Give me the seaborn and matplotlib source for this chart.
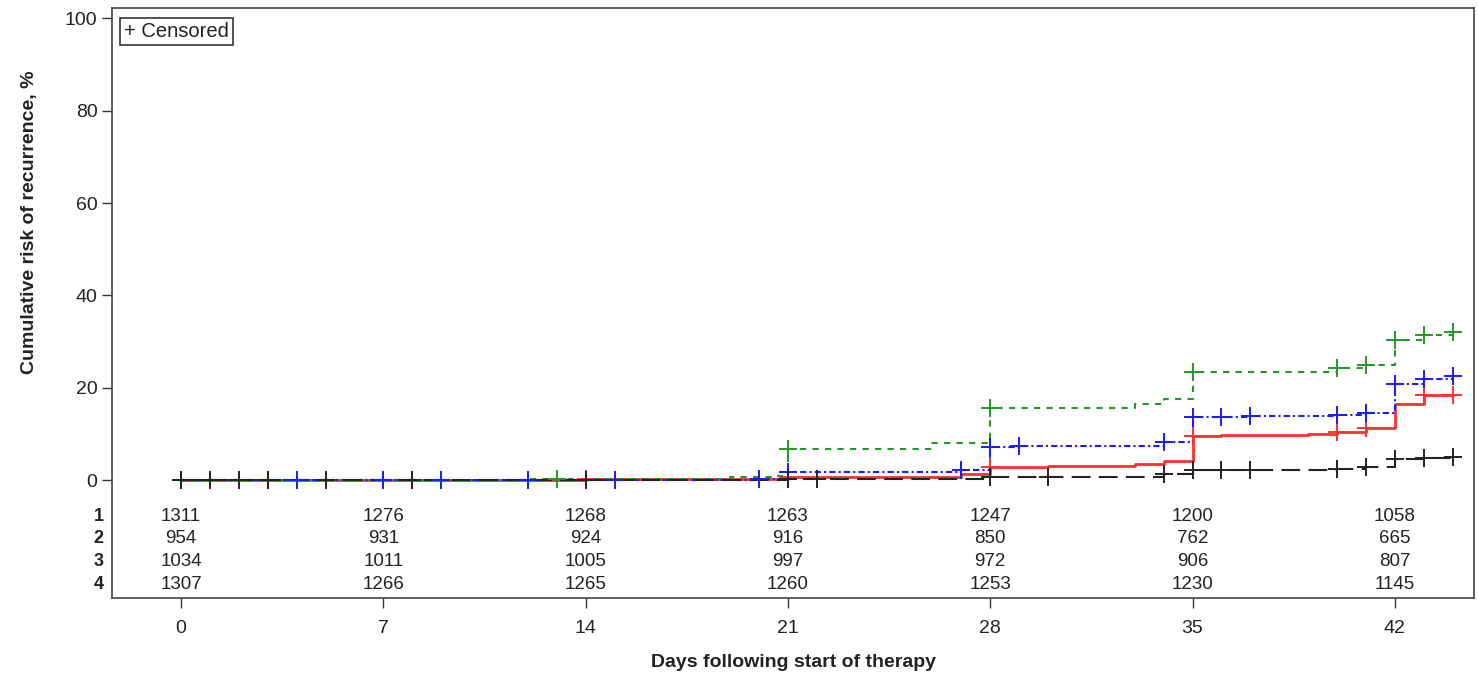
import numpy as np
import pandas as pd
import matplotlib
matplotlib.use("Agg")
import matplotlib.pyplot as plt
import seaborn as sns

# step curves (day of event, cumulative risk % after that day)
g1_days = [0, 14, 21, 27, 28, 30, 33, 34, 35, 36, 39, 40, 41, 42, 43, 44]
g1_risk = [0, 0.2, 0.6, 1.3, 2.9, 3.0, 3.5, 4.2, 9.5, 9.7, 9.9, 10.4, 11.2, 16.6, 18.4, 18.4]
g1_cens = [0, 3, 7, 14, 21, 28, 35, 40, 41, 43, 44]

g2_days = [0, 12, 19, 20.5, 21, 26, 28, 33, 34, 35, 40, 41, 42, 43, 44]
g2_risk = [0, 0.3, 0.7, 1.0, 6.7, 8.0, 15.7, 16.6, 17.5, 23.4, 24.2, 24.9, 30.3, 31.5, 32.0]
g2_cens = [13, 21, 28, 35, 40, 41, 42, 43, 44]

g3_days = [0, 14, 20, 21, 27, 28, 29, 34, 35, 37, 40, 41, 42, 43, 44]
g3_risk = [0, 0.1, 0.3, 1.7, 2.3, 7.2, 7.4, 8.3, 13.6, 13.8, 14.1, 14.5, 20.8, 21.9, 22.5]
g3_cens = [4, 7, 9, 12, 15, 20, 21, 27, 28, 29, 34, 35, 36, 37, 40, 41, 42, 43, 44]

g4_days = [0, 21, 28, 34, 35, 40, 41, 42, 43, 44]
g4_risk = [0, 0.2, 0.7, 1.3, 2.2, 2.5, 2.9, 4.5, 4.9, 5.0]
g4_cens = [0, 1, 2, 3, 5, 8, 14, 21, 22, 28, 30, 34, 35, 36, 37, 40, 41, 42, 43, 44]

# number at risk table
risk_days = [0, 7, 14, 21, 28, 35, 42]
at_risk_1 = [1311, 1276, 1268, 1263, 1247, 1200, 1058]
at_risk_2 = [954, 931, 924, 916, 850, 762, 665]
at_risk_3 = [1034, 1011, 1005, 997, 972, 906, 807]
at_risk_4 = [1307, 1266, 1265, 1260, 1253, 1230, 1145]

sns.set_theme(style="white")
plt.rcParams["font.family"] = ["Liberation Sans", "DejaVu Sans"]

fig = plt.figure(figsize=(14.78, 6.76), dpi=100)
ax = fig.add_axes([0.0758, 0.1154, 0.9215, 0.8726])

groups = [
    (g1_days, g1_risk, g1_cens, "#ff3030", "", 2.0),
    (g2_days, g2_risk, g2_cens, "#229922", (3, 3), 1.5),
    (g3_days, g3_risk, g3_cens, "#1a1aff", (3, 1.5, 1, 1.5), 1.5),
    (g4_days, g4_risk, g4_cens, "#222222", (9, 4), 1.5),
]

for days, risk, cens, col, dash, lw in groups:
    line = sns.lineplot(x=days, y=risk, drawstyle="steps-post", color=col,
                        linewidth=lw, estimator=None, ax=ax)
    if dash:
        line.lines[-1].set_dashes(dash)
    idx = np.searchsorted(days, cens, side="right") - 1
    cy = np.array(risk)[idx]
    sns.scatterplot(x=cens, y=cy, marker="+", s=150, linewidth=1.4,
                    color=col, ax=ax, zorder=4)

# at-risk rows inside the frame
row_y = [-7.8, -12.6, -17.5, -22.5]
rows = [at_risk_1, at_risk_2, at_risk_3, at_risk_4]
for i, (yy, vals) in enumerate(zip(row_y, rows)):
    for d, v in zip(risk_days, vals):
        ax.text(d, yy, str(v), ha="center", va="center", fontsize=13.5, color="#222222")
    ax.text(-0.006, yy, str(i + 1), transform=ax.get_yaxis_transform(),
            ha="right", va="center", fontsize=13, fontweight="bold", color="#222222")

ax.set_xlim(-2.39, 44.74)
ax.set_ylim(-25.5, 102.2)
ax.set_xticks(risk_days)
ax.set_yticks([0, 20, 40, 60, 80, 100])
ax.tick_params(axis="both", direction="out", length=7, width=1, color="#333333",
               labelsize=14, labelcolor="#222222", bottom=True, left=True)
ax.tick_params(axis="x", pad=9)
for sp in ax.spines.values():
    sp.set_color("#444444")
    sp.set_linewidth(1.2)

ax.set_xlabel("Days following start of therapy", fontsize=14, fontweight="bold",
              color="#222222", labelpad=12)
ax.set_ylabel("Cumulative risk of recurrence, %", fontsize=14, fontweight="bold",
              color="#222222", labelpad=12)
ax.yaxis.set_label_coords(-0.054, 0.637)

ax.text(0.009, 0.977, "+ Censored", transform=ax.transAxes, ha="left", va="top",
        fontsize=14.5, color="#222222",
        bbox=dict(boxstyle="square,pad=0.2", fc="white", ec="#333333", lw=1.2))

fig.savefig("out.png", dpi=100)
